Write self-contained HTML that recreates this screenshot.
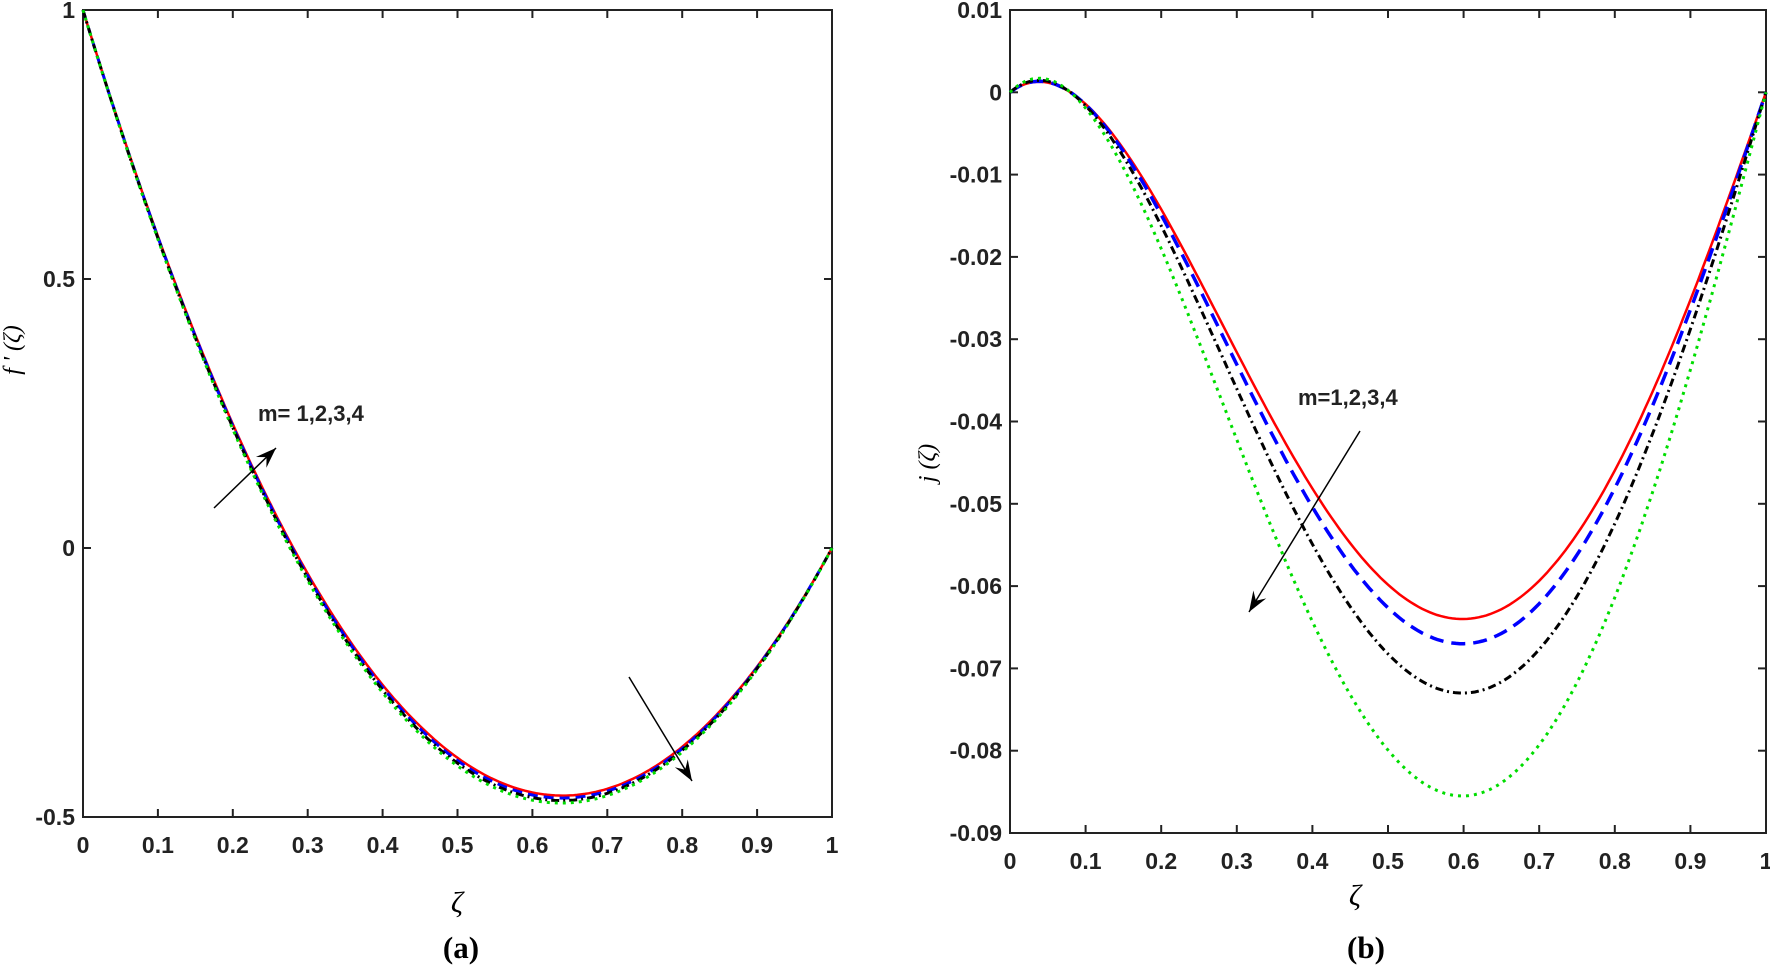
<!DOCTYPE html>
<html><head><meta charset="utf-8"><style>
body{margin:0;background:#fff;}
svg{display:block;}
text{font-family:"Liberation Sans",Arial,sans-serif;}
text.serif{font-family:"Liberation Serif","Times New Roman",serif;}
.t{font-size:23px;font-weight:bold;fill:#222;}
</style></head><body>
<svg id="s" width="1770" height="970" xmlns="http://www.w3.org/2000/svg"></svg>
<script>
const s=document.getElementById('s');let h='';
function add(x){h+=x;}
const L={x0:83,x1:832,y0:10,y1:817,ymin:-0.5,ymax:1};
const R={x0:1010,x1:1766,y0:10,y1:833,ymin:-0.09,ymax:0.01};
function X(p,v){return p.x0+(p.x1-p.x0)*v;}
function Y(p,v){return p.y1-(v-p.ymin)/(p.ymax-p.ymin)*(p.y1-p.y0);}
function axes(p,yt){
 add(`<rect x="${p.x0}" y="${p.y0}" width="${p.x1-p.x0}" height="${p.y1-p.y0}" fill="none" stroke="#222" stroke-width="2"/>`);
 for(let i=0;i<=10;i++){const x=X(p,i/10);
  add(`<line x1="${x}" y1="${p.y1}" x2="${x}" y2="${p.y1-8}" stroke="#222" stroke-width="2"/><line x1="${x}" y1="${p.y0}" x2="${x}" y2="${p.y0+8}" stroke="#222" stroke-width="2"/>`);
  add(`<text class="t" x="${x}" y="${p.y1+36}" text-anchor="middle">${i==0?'0':i==10?'1':'0.'+i}</text>`);}
 yt.forEach(([v,l])=>{const y=Y(p,v);
  add(`<line x1="${p.x0}" y1="${y}" x2="${p.x0+8}" y2="${y}" stroke="#222" stroke-width="2"/><line x1="${p.x1}" y1="${y}" x2="${p.x1-8}" y2="${y}" stroke="#222" stroke-width="2"/>`);
  add(`<text class="t" x="${p.x0-8}" y="${y+8}" text-anchor="end">${l}</text>`);});
}
axes(L,[[1,'1'],[0.5,'0.5'],[0,'0'],[-0.5,'-0.5']]);
const rt=[];for(let i=0;i<=10;i++){const v=0.01-i*0.01;rt.push([v,i==1?'0':v.toFixed(2)]);}
axes(R,rt);
function path(p,f,col,w,dash){let d='';for(let i=0;i<=200;i++){const z=i/200;d+=(i?'L':'M')+X(p,z).toFixed(1)+','+Y(p,f(z)).toFixed(1);}
 add(`<path d="${d}" fill="none" stroke="${col}" stroke-width="${w}" ${dash?`stroke-dasharray="${dash}"`:''}/>`);}
const fl=(c)=>z=>(1-z)*(1-c*z);
path(L,fl(3.56),'#ff0000',2.5);
path(L,fl(3.58),'#0000ff',3,'10,6');
path(L,fl(3.6),'#000',3,'8,4,2,4');
path(L,fl(3.62),'#00dd00',3,'3,5');
const g=z=>z*(1-z)*(z-0.08)*(1.5-z);
const gm=g(0.6);
const fr=m=>z=>-m*g(z)/gm;
path(R,fr(0.064),'#ff0000',2.5);
path(R,fr(0.067),'#0000ff',3.5,'14,8');
path(R,fr(0.073),'#000',3,'8,4,2,4');
path(R,fr(0.0855),'#00dd00',3,'3,5');
add(`<text class="serif" x="457" y="912" font-size="30" font-style="italic" text-anchor="middle">ζ</text>`);
add(`<text class="serif" x="1355" y="905" font-size="30" font-style="italic" text-anchor="middle">ζ</text>`);
add(`<text class="serif" x="461" y="958" font-size="31" font-weight="bold" text-anchor="middle">(a)</text>`);
add(`<text class="serif" x="1366" y="958" font-size="31" font-weight="bold" text-anchor="middle">(b)</text>`);
add(`<text class="serif" transform="translate(20,350) rotate(-90)" font-size="24" font-style="italic" text-anchor="middle">f ' (ζ)</text>`);
add(`<text class="serif" transform="translate(935,463) rotate(-90)" font-size="24" font-style="italic" text-anchor="middle">j (ζ)</text>`);
add(`<text x="258" y="421" font-size="22" font-weight="bold" fill="#222">m= 1,2,3,4</text>`);
add(`<text x="1298" y="405" font-size="22" font-weight="bold" fill="#222">m=1,2,3,4</text>`);
function arrow(x1,y1,x2,y2){const a=Math.atan2(y2-y1,x2-x1),l=22,w=0.35;
 add(`<line x1="${x1}" y1="${y1}" x2="${x2}" y2="${y2}" stroke="#000" stroke-width="1.5"/>`);
 add(`<polygon points="${x2},${y2} ${x2-l*Math.cos(a-w)},${y2-l*Math.sin(a-w)} ${x2-l*0.6*Math.cos(a)},${y2-l*0.6*Math.sin(a)} ${x2-l*Math.cos(a+w)},${y2-l*Math.sin(a+w)}" fill="#000"/>`);}
arrow(214,508,276,448);
arrow(629,677,692,781);
arrow(1360,431,1249,612);
s.innerHTML=h;
</script>
</body></html>
